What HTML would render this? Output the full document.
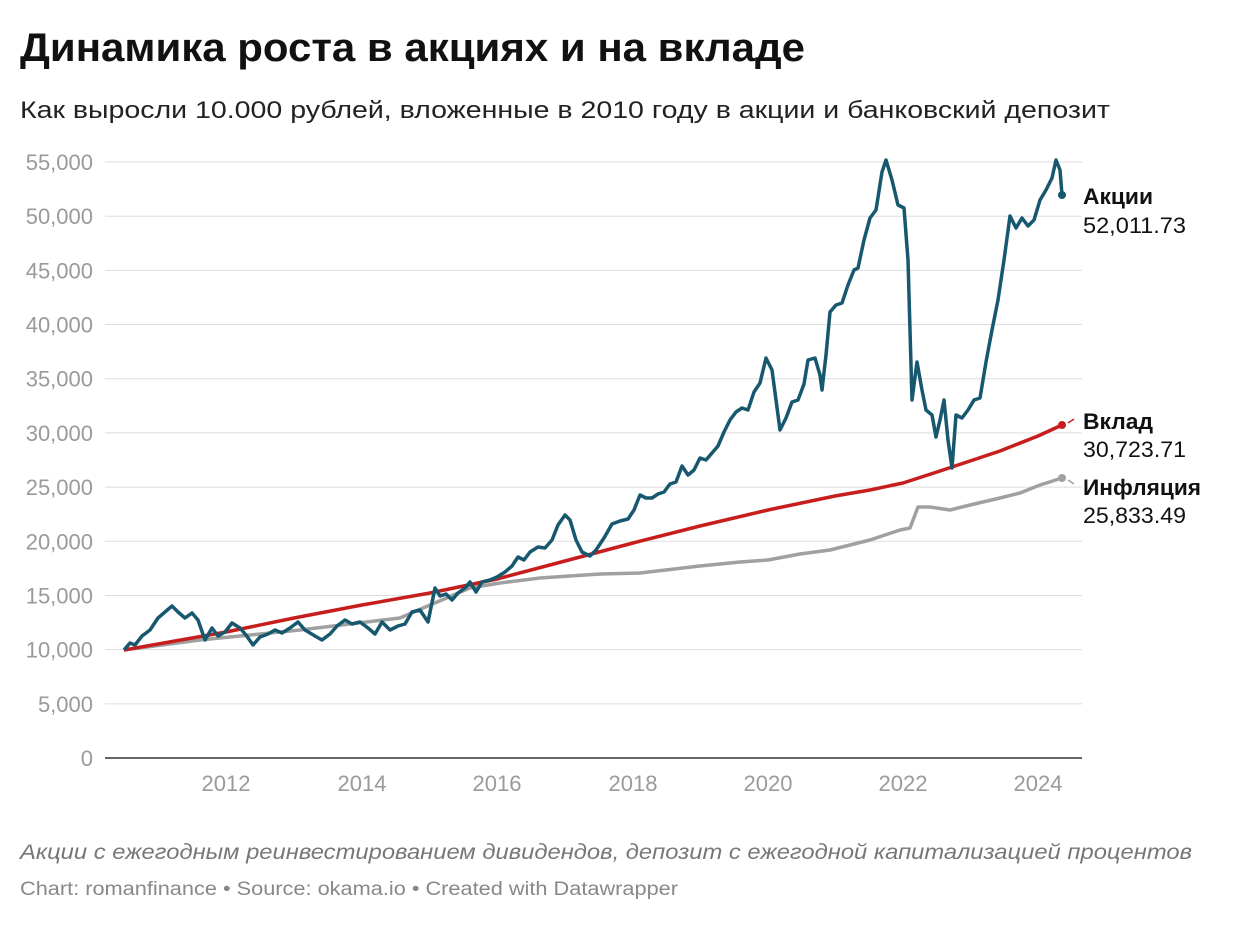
<!DOCTYPE html>
<html><head><meta charset="utf-8"><style>
body{margin:0;background:#fff;width:1240px;height:922px;overflow:hidden;font-family:"Liberation Sans",Arial,sans-serif}
svg text{font-family:"Liberation Sans",Arial,sans-serif}
</style></head><body>
<svg width="1240" height="922" viewBox="0 0 1240 922" xmlns="http://www.w3.org/2000/svg">
<text x="20" y="61" font-size="40" font-weight="bold" fill="#111" textLength="785" lengthAdjust="spacingAndGlyphs">Динамика роста в акциях и на вкладе</text>
<text x="20" y="118" font-size="24" fill="#222" textLength="1090" lengthAdjust="spacingAndGlyphs">Как выросли 10.000 рублей, вложенные в 2010 году в акции и банковский депозит</text>
<g id="grid" stroke="#ddd" stroke-width="1"></g>
<line x1="105" y1="758" x2="1082" y2="758" stroke="#333" stroke-width="1.5"/>
<g id="ylab" font-size="22" fill="#9a9a9a" text-anchor="end"></g>
<g font-size="22" fill="#9a9a9a" text-anchor="middle">
<text x="226" y="791">2012</text><text x="362" y="791">2014</text><text x="497" y="791">2016</text><text x="633" y="791">2018</text><text x="768" y="791">2020</text><text x="903" y="791">2022</text><text x="1038" y="791">2024</text>
</g>
<polyline fill="none" stroke="#a0a0a0" stroke-width="3.5" stroke-linejoin="round" points="124,650 200,640 300,630 400,618 430,605 470,588 500,583 540,578 600,574 640,573 700,566 740,562 768,560 800,554 830,550 870,540 900,530 910,528 918,507 930,507 950,510 970,505 1000,498 1020,493 1040,485 1062,478"/>
<polyline fill="none" stroke="#c71e1d" stroke-width="3.5" stroke-linejoin="round" points="124,650 175,641 226,632 294,618 362,605 430,593 497,579 565,561 633,543 700,526 768,510 835,496 870,490 903,483 940,471 970,461 1000,451 1038,436 1062,425"/>
<polyline fill="none" stroke="#17586f" stroke-width="3.5" stroke-linejoin="round" points="124,650 130,643 135,645 142,636 150,630 158,618 165,612 172,606 178,612 185,618 192,613 198,620 205,640 212,628 218,636 225,632 232,623 240,628 246,635 253,645 260,637 268,634 275,630 282,633 290,628 298,622 305,630 315,636 322,640 330,634 337,626 345,620 352,624 360,622 368,628 375,634 382,622 390,630 398,626 405,624 412,612 420,610 428,622 435,588 440,596 446,594 452,600 458,593 465,588 470,582 476,592 482,582 490,580 497,577 505,572 512,566 518,557 524,560 530,552 538,547 545,548 552,540 558,525 565,515 570,520 576,540 582,552 590,556 596,550 604,538 612,524 620,521 628,519 634,510 640,495 646,498 652,498 658,494 664,492 670,484 676,482 682,466 688,475 694,470 700,458 706,460 712,453 718,446 724,432 730,420 736,412 742,408 748,410 754,392 760,383 766,358 772,370 780,430 786,418 792,402 798,400 804,384 808,360 815,358 820,375 822,390 826,355 830,312 836,305 842,303 848,285 854,270 858,268 864,240 870,218 876,210 882,172 886,160 892,180 898,205 904,208 908,260 912,400 917,362 922,390 926,410 932,415 936,437 940,420 944,400 948,440 952,468 956,415 962,418 968,410 974,400 980,398 986,362 992,330 998,300 1004,260 1010,216 1016,228 1022,218 1028,226 1034,220 1040,200 1046,190 1052,178 1056,160 1060,170 1062,195"/>
<circle cx="1062" cy="195" r="4" fill="#17586f"/>
<circle cx="1062" cy="425" r="4" fill="#c71e1d"/>
<circle cx="1062" cy="478" r="4" fill="#a0a0a0"/>
<line x1="1068" y1="423" x2="1074" y2="419" stroke="#c71e1d" stroke-width="1.5"/>
<line x1="1068" y1="480" x2="1074" y2="484" stroke="#a0a0a0" stroke-width="1.5"/>
<g font-size="22" fill="#111">
<text x="1083" y="204" font-weight="bold" textLength="70" lengthAdjust="spacingAndGlyphs">Акции</text><text x="1083" y="233" textLength="103" lengthAdjust="spacingAndGlyphs">52,011.73</text>
<text x="1083" y="429" font-weight="bold" textLength="70" lengthAdjust="spacingAndGlyphs">Вклад</text><text x="1083" y="457" textLength="103" lengthAdjust="spacingAndGlyphs">30,723.71</text>
<text x="1083" y="495" font-weight="bold" textLength="118" lengthAdjust="spacingAndGlyphs">Инфляция</text><text x="1083" y="523" textLength="103" lengthAdjust="spacingAndGlyphs">25,833.49</text>
</g>
<text x="20" y="859" font-size="21" font-style="italic" fill="#777" textLength="1172" lengthAdjust="spacingAndGlyphs">Акции с ежегодным реинвестированием дивидендов, депозит с ежегодной капитализацией процентов</text>
<text x="20" y="895" font-size="19" fill="#888" textLength="658" lengthAdjust="spacingAndGlyphs">Chart: romanfinance • Source: okama.io • Created with Datawrapper</text>
</svg>
<script>
var g=document.getElementById('grid'),yl=document.getElementById('ylab'),ns='http://www.w3.org/2000/svg';
for(var i=0;i<=11;i++){var y=758-i*54.18;
if(i>0){var l=document.createElementNS(ns,'line');l.setAttribute('x1',105);l.setAttribute('x2',1082);l.setAttribute('y1',y);l.setAttribute('y2',y);g.appendChild(l);}
var t=document.createElementNS(ns,'text');t.setAttribute('x',93);t.setAttribute('y',y+8);t.textContent=i==0?'0':(i*5)+',000';yl.appendChild(t);}
</script>
</body></html>
